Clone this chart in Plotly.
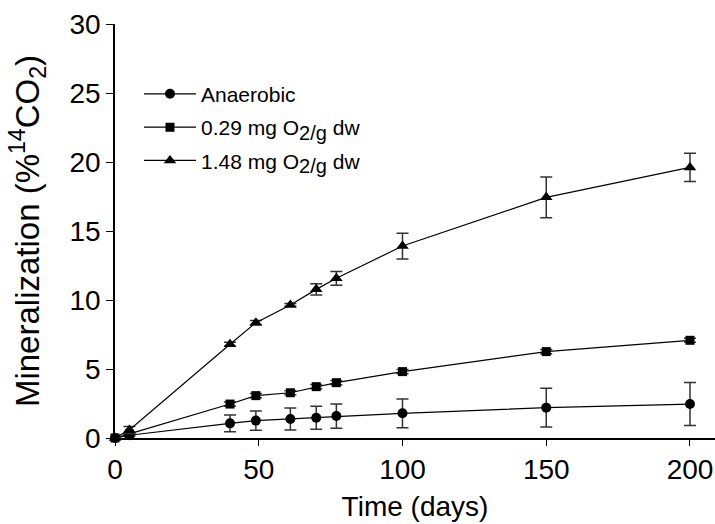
import plotly.graph_objects as go

# Data
time_days = [0, 5, 40, 49, 61, 70, 77, 100, 150, 200]

anaerobic = [0.0, 0.2, 1.06, 1.26, 1.38, 1.47, 1.59, 1.79, 2.2, 2.46]
anaerobic_err = [0.0, 0.1, 0.6, 0.69, 0.8, 0.83, 0.88, 1.04, 1.41, 1.56]

o2_029 = [0.0, 0.3, 2.46, 3.07, 3.28, 3.72, 4.01, 4.81, 6.26, 7.08]
o2_029_err = [0.0, 0.1, 0.15, 0.15, 0.15, 0.15, 0.15, 0.15, 0.15, 0.15]

o2_148 = [0.0, 0.58, 6.79, 8.36, 9.64, 10.77, 11.57, 13.91, 17.44, 19.61]
o2_148_err = [0.0, 0.25, 0.15, 0.15, 0.1, 0.4, 0.5, 0.93, 1.48, 1.03]

SUB = "<sub><span style='font-size:20px'>2/g</span></sub>"
series_names = ["Anaerobic", "0.29 mg O" + SUB + " dw", "1.48 mg O" + SUB + " dw"]
series_values = [anaerobic, o2_029, o2_148]
series_errors = [anaerobic_err, o2_029_err, o2_148_err]
symbols = ["circle", "square", "triangle-up"]
sizes = [10, 9, 11]

x_ticks = [0, 50, 100, 150, 200]
y_ticks = [0, 5, 10, 15, 20, 25, 30]

FONT = "Liberation Sans, Arial, sans-serif"

fig = go.Figure()
for i, (name, vals, errs, sym, sz) in enumerate(zip(series_names, series_values, series_errors, symbols, sizes)):
    fig.add_trace(go.Scatter(
        x=time_days, y=vals, name=name, mode="lines+markers",
        legendgroup="g%d" % i,
        line=dict(color="black", width=1.2),
        marker=dict(symbol=sym, size=sz, color="black", line=dict(width=0)),
        error_y=dict(type="data", array=errs, visible=True, color="#333333",
                     thickness=1.5, width=6),
        cliponaxis=False,
    ))

fig.update_layout(
    width=715, height=524,
    margin=dict(l=115, r=0, t=24, b=86),
    paper_bgcolor="white", plot_bgcolor="white",
    font=dict(family=FONT, color="black", size=28),
    showlegend=True,
    legend=dict(x=0.04, y=0.88, xanchor="left", yanchor="top",
                font=dict(size=21, family=FONT), bgcolor="rgba(0,0,0,0)",
                tracegroupgap=3, itemwidth=52),
    xaxis=dict(range=[0, 208.7], tickvals=x_ticks, ticks="outside", ticklen=6,
               tickwidth=1.2, tickcolor="black", showline=True, linecolor="black",
               linewidth=1.5, showgrid=False, zeroline=False,
               tickfont=dict(size=28),
               title=dict(text="Time (days)", font=dict(size=28), standoff=12)),
    yaxis=dict(range=[0, 30], tickvals=y_ticks, ticks="outside", ticklen=7,
               tickwidth=1.2, tickcolor="black", showline=True, linecolor="black",
               linewidth=1.5, showgrid=False, zeroline=False,
               tickfont=dict(size=28),
               title=dict(text="Mineralization (%<sup>14</sup>CO<sub>2</sub>)",
                          font=dict(size=33), standoff=20)),
)

fig.write_html("out.html")
